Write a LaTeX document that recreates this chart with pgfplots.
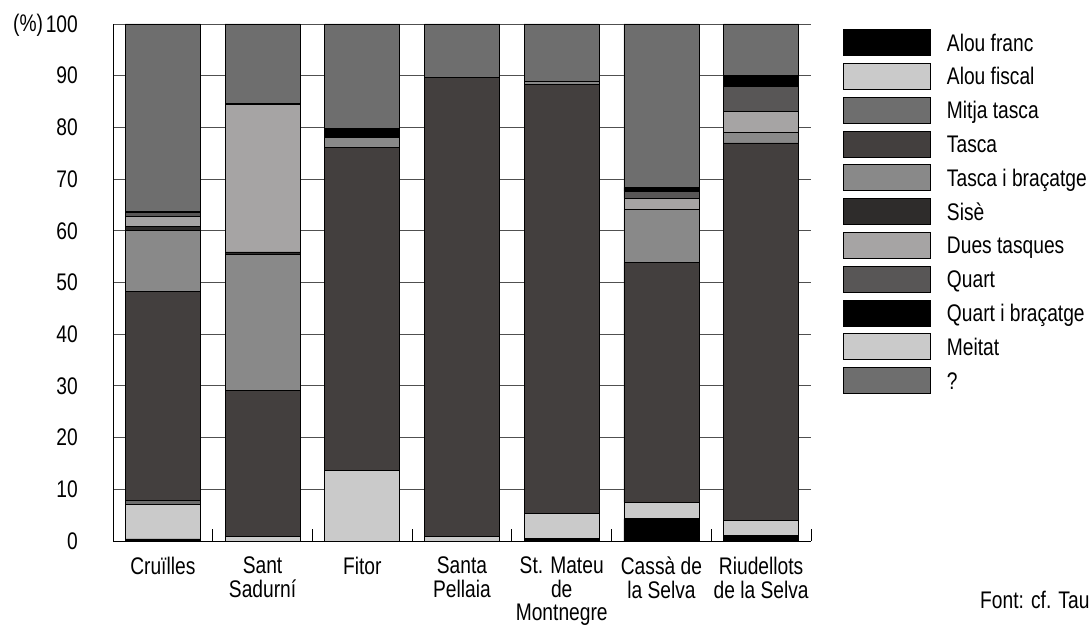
\documentclass[border=0pt]{standalone}
\usepackage{pgfplots}
\pgfplotsset{compat=1.18}
\usepackage{pgfplotstable}
\usepackage{fontspec}
\setmainfont{Liberation Sans}[FakeStretch=0.80]
\definecolor{cAF}{HTML}{000000}
\definecolor{cFis}{HTML}{CACACA}
\definecolor{cMit}{HTML}{6E6E6E}
\definecolor{cTas}{HTML}{433F3E}
\definecolor{cTiB}{HTML}{898989}
\definecolor{cSis}{HTML}{2E2C2B}
\definecolor{cDues}{HTML}{A6A4A4}
\definecolor{cQua}{HTML}{585656}
\definecolor{cQiB}{HTML}{000000}
\definecolor{cMei}{HTML}{CACACA}
\definecolor{cQ}{HTML}{6E6E6E}
\definecolor{gridc}{HTML}{505050}
\pgfplotstableread{
x AF Fis Mit Tas TiB Sis Dues Qua QiB Mei Q
0 0.4 6.7 0.8 40.3 11.8 0.8 1.9 0.8 0.3 0 36.2
1 0 0.8 0 28.4 26.3 0.4 28.5 0 0.3 0 15.3
2 0 13.6 0 62.6 1.8 0 0 0 1.8 0 20.2
3 0 0.8 0 88.8 0 0 0 0 0 0 10.4
4 0.5 4.8 0 83.0 0.5 0 0 0 0 0 11.2
5 4.3 3.2 0 46.4 10.2 0 2.2 1.3 0.8 0 31.6
6 1.0 2.9 0 73.1 2.0 0 4.1 4.9 2.1 0 9.9
}\data
\pgfplotsset{myleg/.style={legend image code/.code={\draw[##1,/tikz/.cd,draw=black,line width=0.8pt] (0pt,-13pt) rectangle (87pt,13pt);}}}
\begin{document}
\fontsize{24}{23.5}\selectfont
\begin{tikzpicture}
\useasboundingbox (0,0) rectangle (1092pt,628pt);
\begin{axis}[
  at={(113pt,87pt)}, anchor=south west,
  scale only axis, width=698pt, height=517pt,
  xmin=-0.5, xmax=6.5, ymin=0, ymax=100,
  ybar stacked, bar width=75pt,
  axis x line*=bottom, axis y line*=left,
  axis line style={black, line width=0.8pt},
  tick align=inside,
  ytick={0,10,...,100},
  ymajorgrids, grid style={gridc, line width=0.8pt},
  major tick length=0pt,
  xtick={0,...,6},
  xticklabels={Cruïlles,{Sant\\Sadurní},Fitor,{Santa\\Pellaia},{St. Mateu\\de\\Montnegre},{Cassà de\\la Selva},{Riudellots\\de la Selva}},
  xticklabel style={align=center, yshift=-8pt},
  yticklabel style={anchor=east, xshift=-27pt},
  ticklabel style={font=\fontsize{24}{23.5}\selectfont},
  /pgf/number format/assume math mode=true,
  extra x ticks={-0.5,0.5,...,6.5}, extra x tick labels={},
  extra x tick style={grid=none, major tick length=12pt, tick style={draw=black, line width=0.8pt}},
  every axis plot/.append style={draw=black, line width=0.8pt},
  legend style={at={(1.0458,0.9903)}, anchor=north west, draw=none, inner sep=0pt,
    nodes={inner sep=0pt, text height=17pt, text depth=0pt}, column sep=16pt, row sep=7pt, font=\fontsize{24}{23.5}\selectfont},
  legend cell align=left,
]
\addplot[fill=cAF, myleg] table[x=x,y=AF]{\data};
\addplot[fill=cFis, myleg] table[x=x,y=Fis]{\data};
\addplot[fill=cMit, myleg] table[x=x,y=Mit]{\data};
\addplot[fill=cTas, myleg] table[x=x,y=Tas]{\data};
\addplot[fill=cTiB, myleg] table[x=x,y=TiB]{\data};
\addplot[fill=cSis, myleg] table[x=x,y=Sis]{\data};
\addplot[fill=cDues, myleg] table[x=x,y=Dues]{\data};
\addplot[fill=cQua, myleg] table[x=x,y=Qua]{\data};
\addplot[fill=cQiB, myleg] table[x=x,y=QiB]{\data};
\addplot[fill=cMei, myleg] table[x=x,y=Mei]{\data};
\addplot[fill=cQ, myleg] table[x=x,y=Q]{\data};
\legend{Alou franc,Alou fiscal,Mitja tasca,Tasca,Tasca i braçatge,Sisè,Dues tasques,Quart,Quart i braçatge,Meitat,?}
\end{axis}
\node[anchor=west, inner sep=0pt] at (13pt,603pt) {(\%)};
\node[anchor=west, inner sep=0pt] at (980pt,28pt) {Font: cf. Tau};
\end{tikzpicture}
\end{document}
